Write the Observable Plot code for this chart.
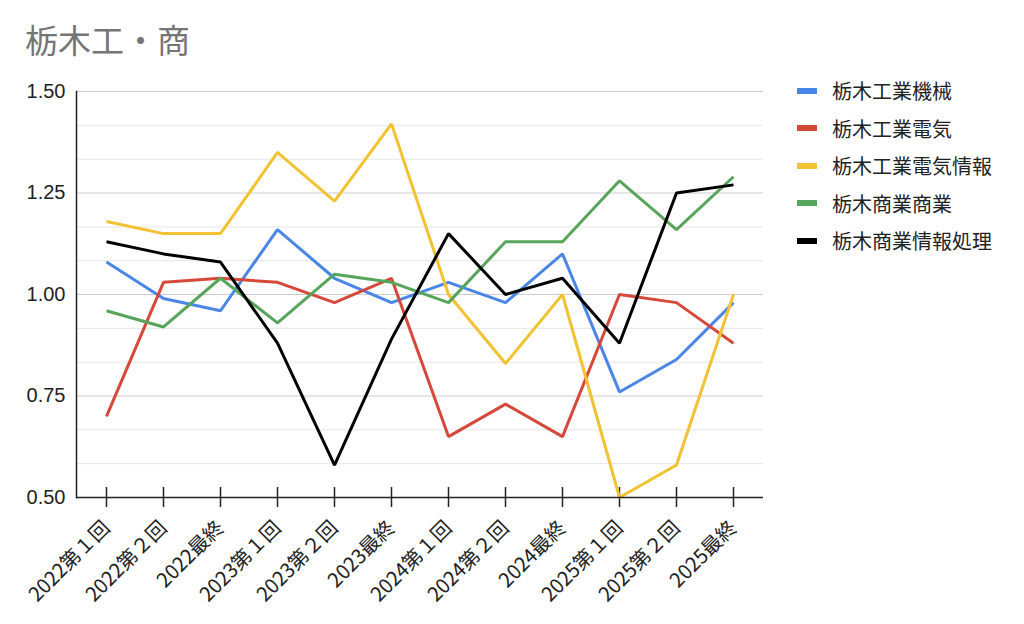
<!DOCTYPE html>
<html>
<head>
<meta charset="utf-8">
<script src="https://cdn.jsdelivr.net/npm/d3@7"></script>
<script src="https://cdn.jsdelivr.net/npm/@observablehq/plot@0.6"></script>
<style>
  html, body { margin: 0; padding: 0; background: #fff; }
  body { width: 1024px; height: 624px; position: relative; overflow: hidden;
         font-family: "Liberation Sans", "Noto Sans CJK JP", sans-serif; }
  #title { position: absolute; left: 25px; top: 18px; font-size: 33px; color: #757575;
           font-family: "Noto Sans CJK JP", "Liberation Sans", sans-serif; line-height: 42px; }
  #chart { position: absolute; left: 0; top: 70px; }
  #legend { position: absolute; left: 797px; top: 72px; }
  .row { display: flex; align-items: center; height: 37.5px; font-size: 20px; color: #222;
         font-family: "Noto Sans CJK JP", sans-serif; }
  .sw { width: 20px; height: 6px; margin-right: 15px; }
</style>
</head>
<body>
<div id="title">栃木工・商</div>
<div id="chart"></div>
<div id="legend"></div>
<script>
const categories = ["2022第１回","2022第２回","2022最終","2023第１回","2023第２回","2023最終",
                    "2024第１回","2024第２回","2024最終","2025第１回","2025第２回","2025最終"];
const seriesNames = ["栃木工業機械","栃木工業電気","栃木工業電気情報","栃木商業商業","栃木商業情報処理"];
const kikai    = [1.08, 0.99, 0.96, 1.16, 1.04, 0.98, 1.03, 0.98, 1.10, 0.76, 0.84, 0.98];
const denki    = [0.70, 1.03, 1.04, 1.03, 0.98, 1.04, 0.65, 0.73, 0.65, 1.00, 0.98, 0.88];
const denkiJoho= [1.18, 1.15, 1.15, 1.35, 1.23, 1.42, 1.00, 0.83, 1.00, 0.50, 0.58, 1.00];
const shogyo   = [0.96, 0.92, 1.04, 0.93, 1.05, 1.03, 0.98, 1.13, 1.13, 1.28, 1.16, 1.29];
const johoShori= [1.13, 1.10, 1.08, 0.88, 0.58, 0.89, 1.15, 1.00, 1.04, 0.88, 1.25, 1.27];
const yTicks = [0.5, 0.75, 1.0, 1.25, 1.5];
const gridMinor = [0.5833, 0.6667, 0.8333, 0.9167, 1.0833, 1.1667, 1.3333, 1.4167];
const colors = ["#4a86e8", "#d5483a", "#f1c232", "#57a55a", "#000000"];

const seriesValues = [kikai, denki, denkiJoho, shogyo, johoShori];
const data = [];
seriesNames.forEach((s, i) => categories.forEach((c, j) => data.push({series: s, cat: c, value: seriesValues[i][j]})));

const font = "Liberation Sans, Noto Sans CJK JP, sans-serif";
const chart = Plot.plot({
  width: 1024,
  height: 554,
  marginLeft: 76,
  marginRight: 261,
  marginTop: 21,
  marginBottom: 127,
  style: {fontFamily: font, fontSize: "20px", color: "#222", background: "transparent"},
  x: {type: "point", domain: categories, padding: 0.5, label: null},
  y: {domain: [0.5, 1.5], label: null},
  color: {domain: seriesNames, range: colors},
  marks: [
    Plot.ruleY(gridMinor, {stroke: "#e6e6e6", strokeWidth: 1}),
    Plot.ruleY(yTicks.slice(1), {stroke: "#cccccc", strokeWidth: 1}),
    Plot.axisY({ticks: yTicks, tickFormat: d3.format(".2f"), tickSize: 0, tickPadding: 11, fontSize: 20, fill: "#222"}),
    Plot.axisX({tickSize: 20, dy: -10, text: null, stroke: "#222", strokeWidth: 1.5}),
    Plot.axisX({tickSize: 0, tickPadding: 27, tickRotate: -45, fontSize: 20, fill: "#222",
                fontFamily: "Noto Sans CJK JP, sans-serif"}),
    Plot.line(data, {x: "cat", y: "value", z: "series", stroke: "series", strokeWidth: 3,
                     strokeLinejoin: "miter", strokeLinecap: "butt"}),
    Plot.ruleY([0.5], {stroke: "#222", strokeWidth: 1.5}),
    Plot.frame({anchor: "left", stroke: "#222", strokeWidth: 1.5})
  ]
});
document.getElementById("chart").appendChild(chart);

const legend = document.getElementById("legend");
seriesNames.forEach((s, i) => {
  const row = document.createElement("div");
  row.className = "row";
  const sw = document.createElement("div");
  sw.className = "sw";
  sw.style.background = colors[i];
  const t = document.createElement("span");
  t.textContent = s;
  row.appendChild(sw); row.appendChild(t);
  legend.appendChild(row);
});
</script>
</body>
</html>
